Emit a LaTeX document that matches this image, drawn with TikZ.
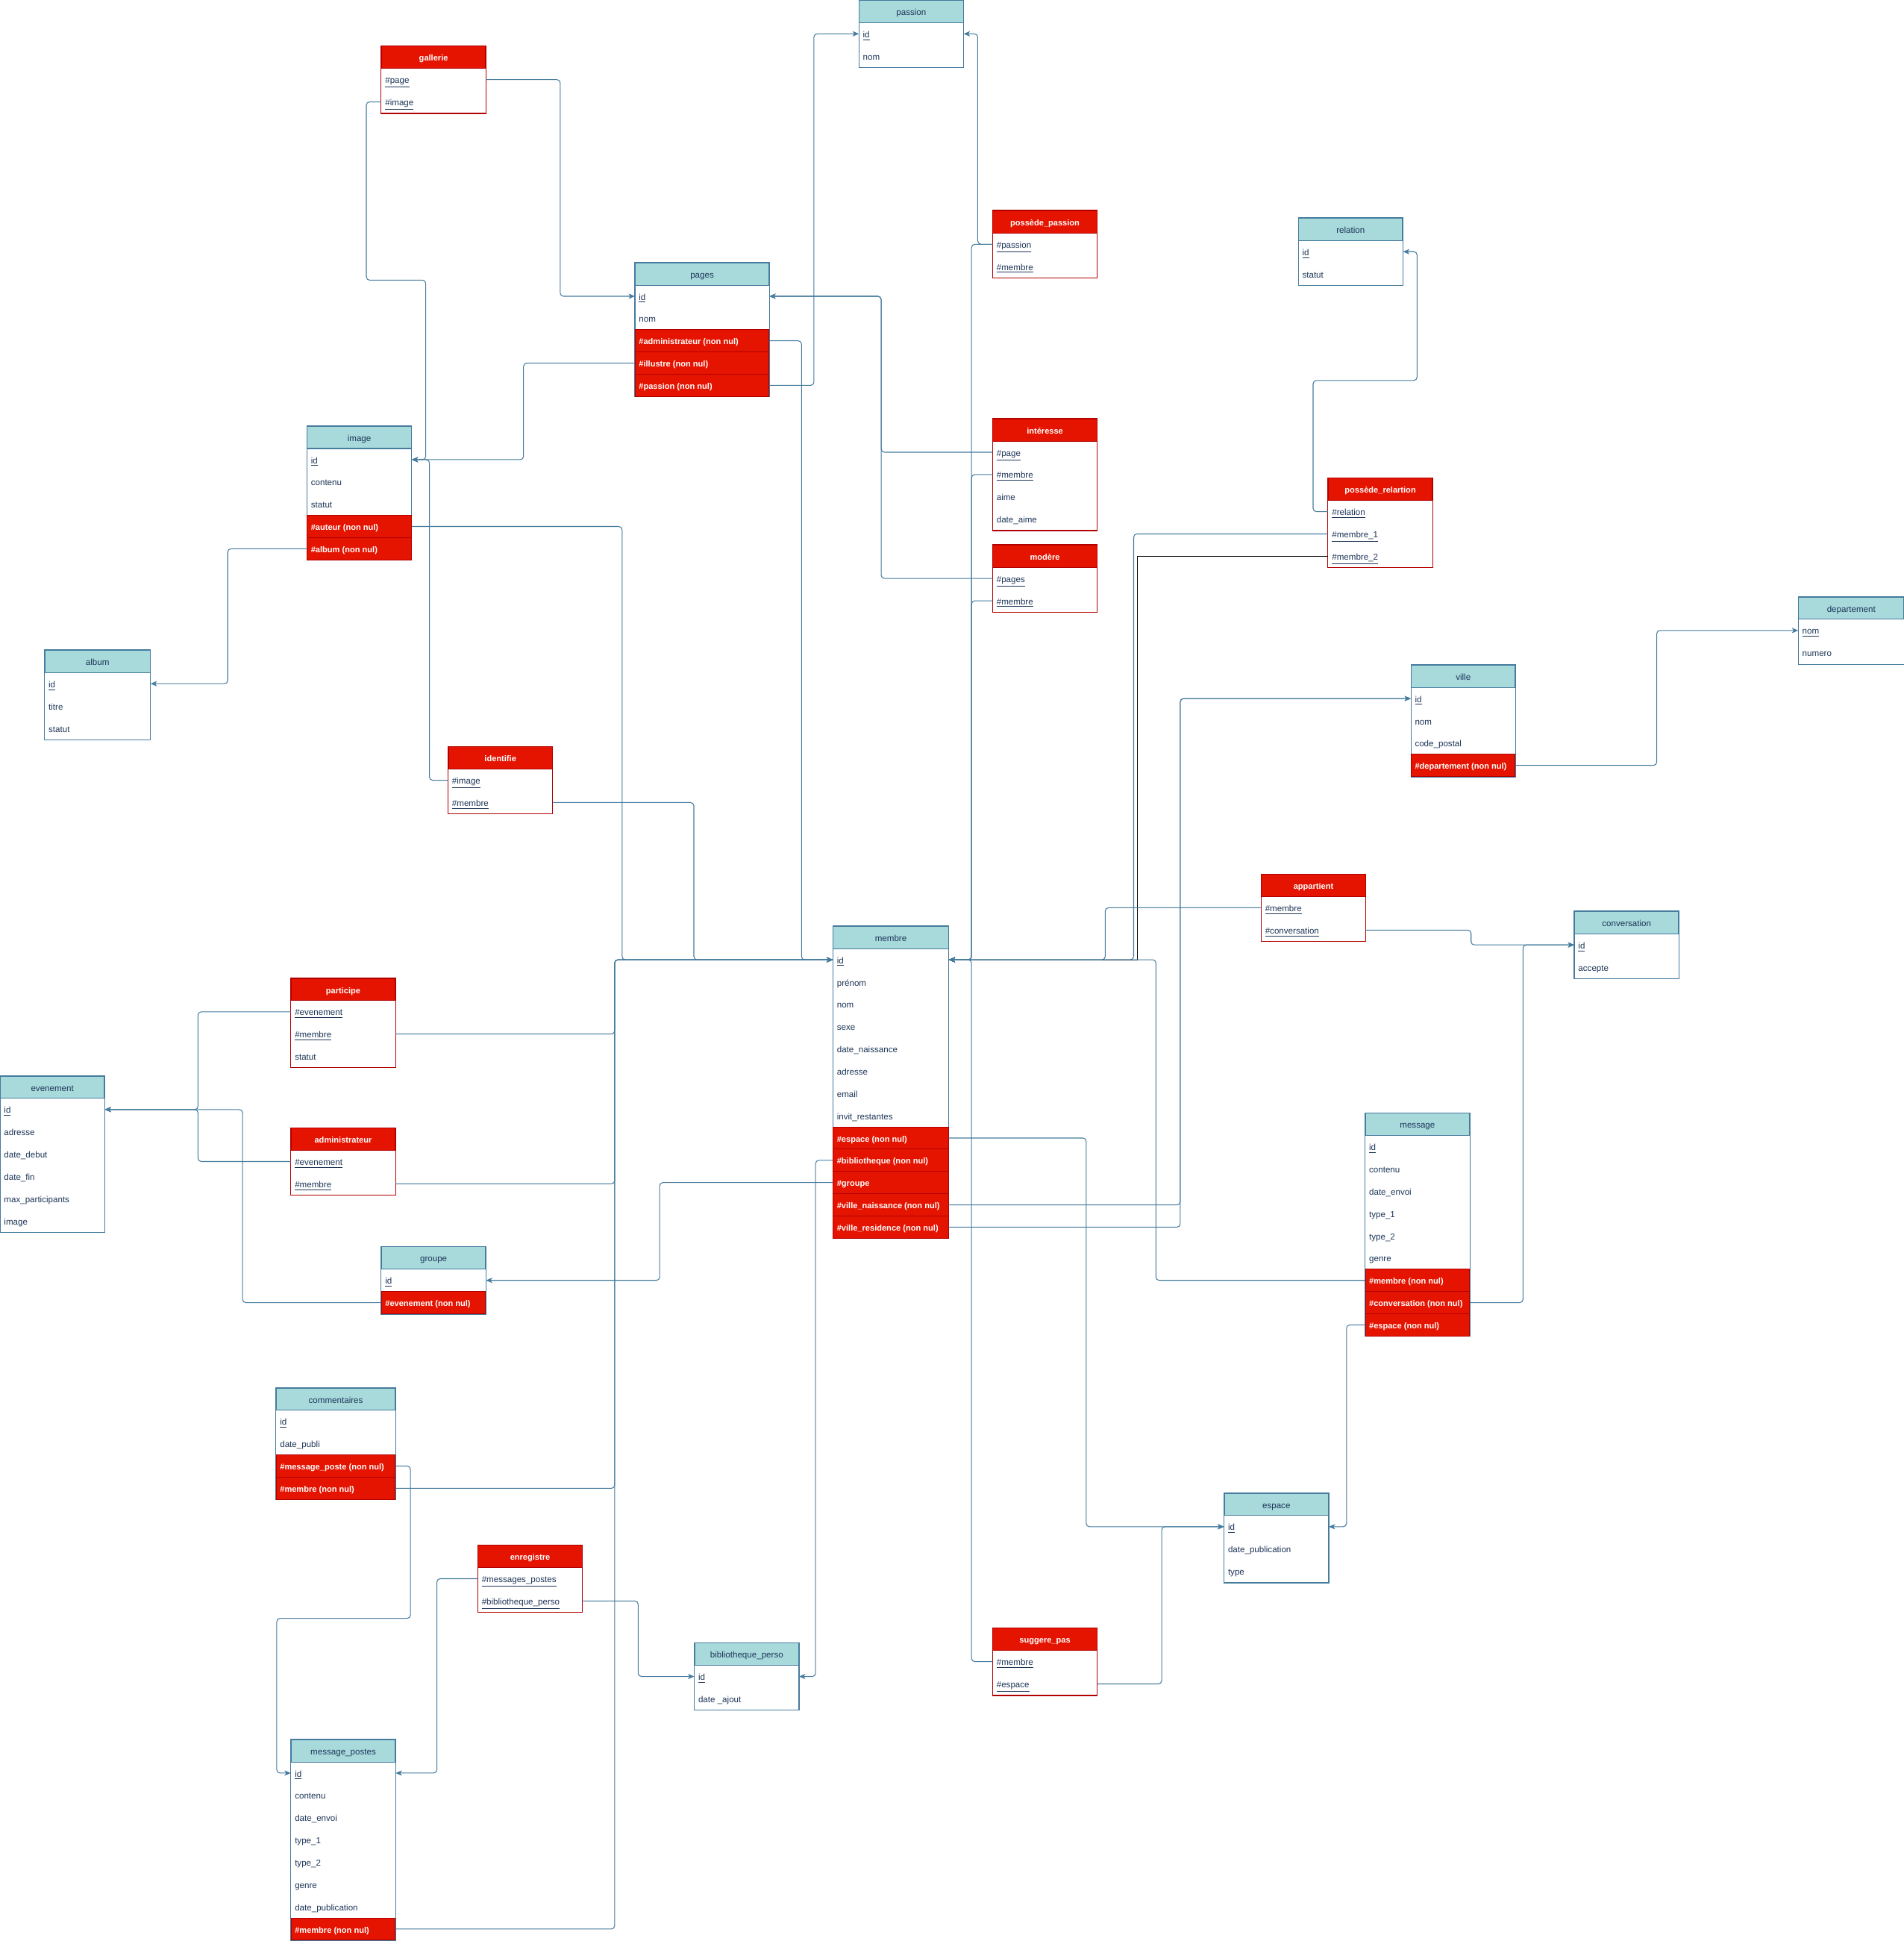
\documentclass[tikz,border=0pt]{standalone}
\usepackage{fontspec}
\setmainfont{Liberation Sans}
\usepackage{tikz}
\usetikzlibrary{arrows.meta,backgrounds}
\definecolor{tealhead}{HTML}{A8DADC}
\definecolor{steelline}{HTML}{457B9D}
\definecolor{navytext}{HTML}{1D3557}
\definecolor{fkred}{HTML}{E51400}
\definecolor{fkredline}{HTML}{B20000}

\newcommand{\cellfont}{\fontsize{6.6}{8}\selectfont}
\newcommand{\boldcell}{\fontsize{6.3}{8}\selectfont\bfseries}
\tikzset{
  cellbase/.style={inner xsep=2.8pt, inner ysep=0pt, minimum height=0.5976cm,
    text height=1.55ex, text depth=0.45ex, line width=0.6pt, font=\cellfont},
  bhead/.style={cellbase, fill=tealhead, draw=steelline, text=navytext},
  rhead/.style={cellbase, fill=fkred, draw=fkredline, text=white, font=\boldcell},
  fld/.style={cellbase, text=navytext},
  fkrow/.style={cellbase, fill=fkred, draw=fkredline, text=white, font=\boldcell},
  bhead frame/.style={draw=steelline, fill=white, line width=0.6pt},
  rhead frame/.style={draw=fkredline, fill=white, line width=0.6pt},
  fk/.style={draw=steelline, line width=0.6pt, rounded corners=2.5pt,
    -{Stealth[length=4.8pt,width=4pt,inset=1.2pt]}},
}

% table: name, x, y (top), width, head style, title, rows key/style/text
\newcommand{\enttable}[7]{%
  \pgfmathsetlengthmacro\colw{#4*0.0332cm-5.6pt}
  \node[#5, anchor=north west] (#1) at (#2,#3) {\makebox[\colw][c]{#6}};
  \foreach \rk/\rs/\rt [count=\i] in {#7}{
    \node[\rs, anchor=north west] (#1-\rk) at (#2,#3+18*\i) {\makebox[\colw][l]{\rt}};
    \xdef\lastrow{#1-\rk}
  }
  \begin{scope}[on background layer]
    \draw[#5 frame] (#1.north west) rectangle (\lastrow.south east);
  \end{scope}
}

\begin{document}
\begin{tikzpicture}[x=0.0332cm, y=-0.0332cm]
  \useasboundingbox (0,0) rectangle (1538,1568);
  \begin{scope}[on background layer]
    \fill[white] (0,0) rectangle (1538,1568);
  \end{scope}

  \enttable{passion}{694}{0}{84}{bhead}{passion}{id/fld/\underline{id}, nom/fld/nom}
  \enttable{gallerie}{308}{37}{84}{rhead}{gallerie}{page/fld/\underline{\#page}, image/fld/\underline{\#image}}
  \enttable{pages}{513}{212}{108}{bhead}{pages}{id/fld/\underline{id}, nom/fld/nom,
    administrateur/fkrow/\#administrateur (non nul), illustre/fkrow/\#illustre (non nul),
    passion/fkrow/\#passion (non nul)}
  \enttable{possede_passion}{802}{170}{84}{rhead}{possède\_passion}{passion/fld/\underline{\#passion},
    membre/fld/\underline{\#membre}}
  \enttable{relation}{1049}{176}{84}{bhead}{relation}{id/fld/\underline{id}, statut/fld/statut}
  \enttable{image}{248}{344}{84}{bhead}{image}{id/fld/\underline{id}, contenu/fld/contenu,
    statut/fld/statut, auteur/fkrow/\#auteur (non nul), album/fkrow/\#album (non nul)}
  \enttable{interesse}{802}{338}{84}{rhead}{intéresse}{page/fld/\underline{\#page},
    membre/fld/\underline{\#membre}, aime/fld/aime, date_aime/fld/date\_aime}
  \enttable{modere}{802}{440}{84}{rhead}{modère}{pages/fld/\underline{\#pages}, membre/fld/\underline{\#membre}}
  \enttable{possede_relartion}{1073}{386}{84}{rhead}{possède\_relartion}{relation/fld/\underline{\#relation},
    membre_1/fld/\underline{\#membre\_1}, membre_2/fld/\underline{\#membre\_2}}
  \enttable{album}{36}{525}{85}{bhead}{album}{id/fld/\underline{id}, titre/fld/titre, statut/fld/statut}
  \enttable{departement}{1453}{482}{85}{bhead}{departement}{nom/fld/\underline{nom}, numero/fld/numero}
  \enttable{ville}{1140}{537}{84}{bhead}{ville}{id/fld/\underline{id}, nom/fld/nom,
    code_postal/fld/code\_postal, departement/fkrow/\#departement (non nul)}
  \enttable{identifie}{362}{603}{84}{rhead}{identifie}{image/fld/\underline{\#image}, membre/fld/\underline{\#membre}}
  \enttable{appartient}{1019}{706}{84}{rhead}{appartient}{membre/fld/\underline{\#membre},
    conversation/fld/\underline{\#conversation}}
  \enttable{conversation}{1272}{736}{84}{bhead}{conversation}{id/fld/\underline{id}, accepte/fld/accepte}
  \enttable{membre}{673}{748}{93}{bhead}{membre}{id/fld/\underline{id}, prenom/fld/prénom, nom/fld/nom,
    sexe/fld/sexe, date_naissance/fld/date\_naissance, adresse/fld/adresse, email/fld/email,
    invit_restantes/fld/invit\_restantes, espace/fkrow/\#espace (non nul),
    bibliotheque/fkrow/\#bibliotheque (non nul), groupe/fkrow/\#groupe,
    ville_naissance/fkrow/\#ville\_naissance (non nul), ville_residence/fkrow/\#ville\_residence (non nul)}
  \enttable{participe}{235}{790}{84}{rhead}{participe}{evenement/fld/\underline{\#evenement},
    membre/fld/\underline{\#membre}, statut/fld/statut}
  \enttable{evenement}{0}{869}{84}{bhead}{evenement}{id/fld/\underline{id}, adresse/fld/adresse,
    date_debut/fld/date\_debut, date_fin/fld/date\_fin, max_participants/fld/max\_participants, image/fld/image}
  \enttable{administrateur}{235}{911}{84}{rhead}{administrateur}{evenement/fld/\underline{\#evenement},
    membre/fld/\underline{\#membre}}
  \enttable{message}{1103}{899}{84}{bhead}{message}{id/fld/\underline{id}, contenu/fld/contenu,
    date_envoi/fld/date\_envoi, type_1/fld/type\_1, type_2/fld/type\_2, genre/fld/genre,
    membre/fkrow/\#membre (non nul), conversation/fkrow/\#conversation (non nul), espace/fkrow/\#espace (non nul)}
  \enttable{groupe}{308}{1007}{84}{bhead}{groupe}{id/fld/\underline{id}, evenement/fkrow/\#evenement (non nul)}
  \enttable{commentaires}{223}{1121}{96}{bhead}{commentaires}{id/fld/\underline{id}, date_publi/fld/date\_publi,
    message_poste/fkrow/\#message\_poste (non nul), membre/fkrow/\#membre (non nul)}
  \enttable{espace}{989}{1206}{84}{bhead}{espace}{id/fld/\underline{id}, date_publication/fld/date\_publication,
    type/fld/type}
  \enttable{enregistre}{386}{1248}{84}{rhead}{enregistre}{messages_postes/fld/\underline{\#messages\_postes},
    bibliotheque_perso/fld/\underline{\#bibliotheque\_perso}}
  \enttable{bibliotheque_perso}{561}{1327}{84}{bhead}{bibliotheque\_perso}{id/fld/\underline{id},
    date_ajout/fld/date \_ajout}
  \enttable{suggere_pas}{802}{1315}{84}{rhead}{suggere\_pas}{membre/fld/\underline{\#membre},
    espace/fld/\underline{\#espace}}
  \enttable{message_postes}{235}{1405}{84}{bhead}{message\_postes}{id/fld/\underline{id}, contenu/fld/contenu,
    date_envoi/fld/date\_envoi, type_1/fld/type\_1, type_2/fld/type\_2, genre/fld/genre,
    date_publication/fld/date\_publication, membre/fkrow/\#membre (non nul)}

  % links
  \draw[fk] (gallerie-page.east) -- ++(60,0) |- (pages-id.west);
  \draw[fk] (gallerie-image.west) -- ++(-12,0) -- ++(0,144) -- ++(48,0) |- (image-id.east);
  \draw[fk] (pages-illustre.west) -- ++(-90,0) |- (image-id.east);
  \draw[fk] (pages-passion.east) -- ++(36,0) |- (passion-id.west);
  \draw[fk] (pages-administrateur.east) -- ++(26,0) |- (membre-id.west);
  \draw[fk] (possede_passion-passion.west) -- ++(-12,0) |- (passion-id.east);
  \draw[fk] (possede_passion-passion.west) -- ++(-17,0) |- (membre-id.east);
  \draw[fk] (interesse-page.west) -- ++(-90,0) |- (pages-id.east);
  \draw[fk] (interesse-membre.west) -- ++(-17,0) |- (membre-id.east);
  \draw[fk] (modere-pages.west) -- ++(-90,0) |- (pages-id.east);
  \draw[fk] (modere-membre.west) -- ++(-17,0) |- (membre-id.east);
  \draw[fk] (image-auteur.east) -- ++(170,0) |- (membre-id.west);
  \draw[fk] (image-album.west) -- ++(-64,0) |- (album-id.east);
  \draw[fk] (identifie-image.west) -- ++(-15,0) |- (image-id.east);
  \draw[fk] (identifie-membre.east) -- ++(114,0) |- (membre-id.west);
  \draw[fk] (participe-membre.east) -- ++(177,0) |- (membre-id.west);
  \draw[fk] (participe-evenement.west) -- ++(-75,0) |- (evenement-id.east);
  \draw[fk] (administrateur-evenement.west) -- ++(-75,0) |- (evenement-id.east);
  \draw[fk] (administrateur-membre.east) -- ++(177,0) |- (membre-id.west);
  \draw[fk] (groupe-evenement.west) -- ++(-112,0) |- (evenement-id.east);
  \draw[fk] (membre-groupe.west) -- ++(-140,0) |- (groupe-id.east);
  \draw[fk] (membre-bibliotheque.west) -- ++(-14,0) |- (bibliotheque_perso-id.east);
  \draw[fk] (membre-espace.east) -- ++(111,0) |- (espace-id.west);
  \draw[fk] (membre-ville_naissance.east) -- ++(187,0) |- (ville-id.west);
  \draw[fk] (membre-ville_residence.east) -- ++(187,0) |- (ville-id.west);
  \draw[fk] (ville-departement.east) -- ++(114,0) |- (departement-nom.west);
  \draw[fk] (possede_relartion-relation.west) -- ++(-12,0) -- ++(0,-106) -- ++(84,0) |- (relation-id.east);
  \draw[fk] (possede_relartion-membre_1.west) -- ++(-157,0) |- (membre-id.east);
  \draw[fk, draw=black, sharp corners] (possede_relartion-membre_2.west) -- ++(-154,0) |- (membre-id.east);
  \draw[fk] (appartient-membre.west) -- ++(-126,0) |- (membre-id.east);
  \draw[fk] (appartient-conversation.east) -- ++(85,0) |- (conversation-id.west);
  \draw[fk] (message-conversation.east) -- ++(43,0) |- (conversation-id.west);
  \draw[fk] (message-membre.west) -- ++(-169,0) |- (membre-id.east);
  \draw[fk] (message-espace.west) -- ++(-15,0) |- (espace-id.east);
  \draw[fk] (suggere_pas-espace.east) -- ++(52,0) |- (espace-id.west);
  \draw[fk] (suggere_pas-membre.west) -- ++(-17,0) |- (membre-id.east);
  \draw[fk] (commentaires-message_poste.east) -- ++(12,0) -- ++(0,123) -- ++(-108,0) |- (message_postes-id.west);
  \draw[fk] (commentaires-membre.east) -- ++(177,0) |- (membre-id.west);
  \draw[fk] (enregistre-messages_postes.west) -- ++(-33,0) |- (message_postes-id.east);
  \draw[fk] (enregistre-bibliotheque_perso.east) -- ++(45,0) |- (bibliotheque_perso-id.west);
  \draw[fk] (message_postes-membre.east) -- ++(177,0) |- (membre-id.west);
\end{tikzpicture}
\end{document}
